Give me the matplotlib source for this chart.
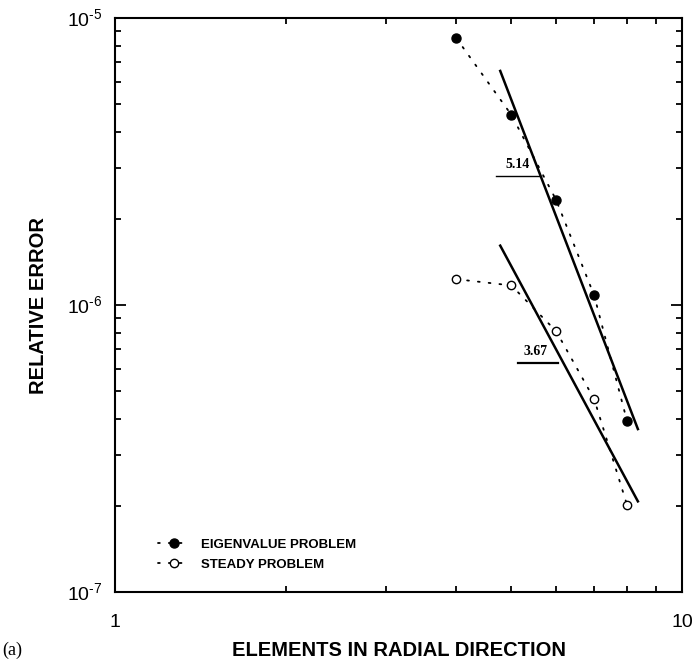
import numpy as np
import matplotlib
matplotlib.use("Agg")
import matplotlib.pyplot as plt
from matplotlib.ticker import LogLocator, NullFormatter

plt.rcParams['font.family'] = ['Liberation Sans', 'DejaVu Sans']
plt.rcParams['mathtext.fontset'] = 'custom'
plt.rcParams['mathtext.rm'] = 'Liberation Sans'

# data
elements = [4, 5, 6, 7, 8]
eig_err = [8.5e-6, 4.6e-6, 2.32e-6, 1.08e-6, 3.94e-7]
steady_err = [1.23e-6, 1.17e-6, 8.1e-7, 4.7e-7, 2.01e-7]

# fitted slopes (power law y = y0 * (x/x0)^-slope)
fit_x = [4.78, 8.36]
eig_slope, eig_y0 = 5.14, 6.54e-6
steady_slope, steady_y0 = 3.67, 1.61e-6

# slope marker segments
eig_mark_x = [4.70, 5.63]
eig_mark_y = 2.81e-6
steady_mark_x = [5.14, 6.04]
steady_mark_y = 6.3e-7

ytick_vals = [1e-7, 1e-6, 1e-5]
ytick_exps = ['-7', '-6', '-5']

fig = plt.figure(figsize=(6.94, 6.68), dpi=100)
ax = fig.add_axes([115/694, 1-592/668, 567/694, 574/668])

dot = (0, (1, 5))
ax.plot(elements, eig_err, linestyle=dot, color='black', lw=1.3,
        dash_capstyle='round', marker='o', ms=6.5, mfc='black', mec='black',
        label='EIGENVALUE PROBLEM')
ax.plot(elements, steady_err, linestyle=dot, color='black', lw=1.3,
        dash_capstyle='round', marker='o', ms=6, mfc='white', mec='black',
        mew=1.0, label='STEADY PROBLEM')

fx = np.array(fit_x)
ax.plot(fx, eig_y0 * (fx / fx[0]) ** -eig_slope, color='black', lw=1.8)
ax.plot(fx, steady_y0 * (fx / fx[0]) ** -steady_slope, color='black', lw=1.8)

ax.plot(eig_mark_x, [eig_mark_y] * 2, color='black', lw=1.0)
ax.plot(steady_mark_x, [steady_mark_y] * 2, color='black', lw=1.6)
ax.text(np.sqrt(eig_mark_x[0] * eig_mark_x[1]) * 0.995, eig_mark_y * 1.04, '5.14',
        family='Liberation Serif', fontweight='bold', fontsize=10,
        ha='center', va='bottom')
ax.text(np.sqrt(steady_mark_x[0] * steady_mark_x[1]) * 0.99, steady_mark_y * 1.04, '3.67',
        family='Liberation Serif', fontweight='bold', fontsize=10,
        ha='center', va='bottom')

ax.set_xscale('log')
ax.set_yscale('log')
ax.set_xlim(1, 10)
ax.set_ylim(1e-7, 1e-5)

for s in ax.spines.values():
    s.set_linewidth(1.5)

ax.xaxis.set_minor_locator(LogLocator(base=10, subs=np.arange(2, 10)))
ax.yaxis.set_minor_locator(LogLocator(base=10, subs=np.arange(2, 10)))
ax.xaxis.set_minor_formatter(NullFormatter())
ax.yaxis.set_minor_formatter(NullFormatter())
ax.tick_params(which='both', direction='in', top=True, right=True,
               labelsize=14, width=1.3)
ax.tick_params(which='major', length=8)
ax.tick_params(which='minor', length=4.5)
ax.tick_params(axis='x', which='major', pad=15.5)
ax.tick_params(axis='y', which='major', pad=9)
ax.set_xticks([1, 10])
ax.set_xticklabels(['1', '10'])
ax.set_yticks(ytick_vals)
ax.set_yticklabels([r'$10^{\text{%s}}$' % e for e in ytick_exps])

ax.set_xlabel('ELEMENTS IN RADIAL DIRECTION', fontsize=14.5, fontweight='bold',
              labelpad=7.5)
ax.set_ylabel('RELATIVE ERROR', fontsize=14.5, fontweight='bold', labelpad=14)

ax.legend(loc='lower left', bbox_to_anchor=(0.065, 0.025), frameon=False,
          prop={'size': 9.5, 'weight': 'bold'}, handlelength=2.3,
          handletextpad=0.9, labelspacing=0.6, borderpad=0)

fig.text(2/694, 1-650/668, '(a)', family='Liberation Serif', fontsize=13,
         va='center', ha='left')

fig.savefig('out.png', dpi=100)
